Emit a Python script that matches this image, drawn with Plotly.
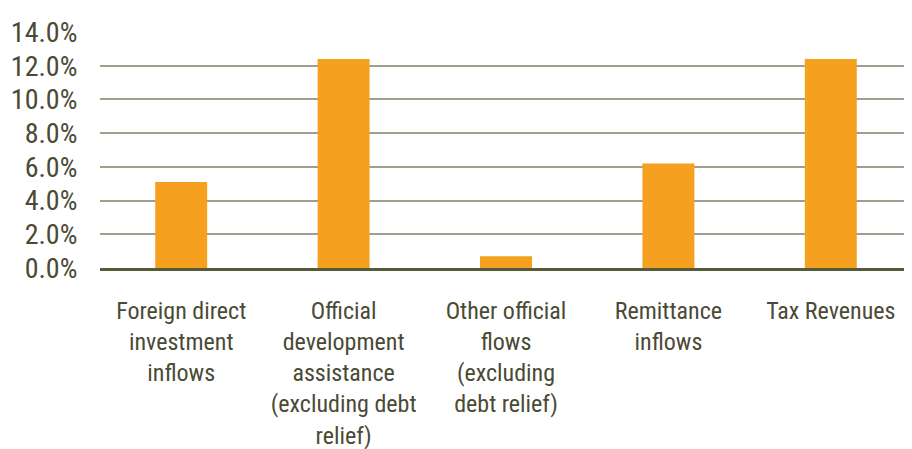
import plotly.graph_objects as go

categories = [
    "Foreign direct<br>investment<br>inflows",
    "Official<br>development<br>assistance<br>(excluding debt<br>relief)",
    "Other official<br>flows<br>(excluding<br>debt relief)",
    "Remittance<br>inflows",
    "Tax Revenues",
]
values = [5.1, 12.4, 0.7, 6.2, 12.4]
tick_vals = [0, 2, 4, 6, 8, 10, 12, 14]
tick_text = ["0.0%", "2.0%", "4.0%", "6.0%", "8.0%", "10.0%", "12.0%", "14.0%"]

font_family = "Liberation Sans Narrow, Roboto Condensed, Arial Narrow, sans-serif"
text_color = "#4a4a35"

fig = go.Figure(
    go.Bar(x=categories, y=values, marker=dict(color="#f5a01e", line=dict(width=0)))
)
fig.update_layout(
    width=904,
    height=441,
    margin=dict(l=92, r=0, t=24, b=181),
    plot_bgcolor="white",
    paper_bgcolor="white",
    bargap=0.68,
    showlegend=False,
    font=dict(family=font_family, size=24, color=text_color),
)
fig.update_yaxes(
    range=[0, 14],
    tickvals=tick_vals,
    ticktext=tick_text,
    showgrid=True,
    gridcolor="#a39e8c",
    gridwidth=2,
    zeroline=False,
    ticks="outside",
    ticklen=16,
    tickcolor="rgba(0,0,0,0)",
    tickfont=dict(size=28),
    automargin=False,
)
fig.update_xaxes(
    showline=True,
    linecolor="#555a3a",
    linewidth=3,
    ticks="outside",
    ticklen=19,
    tickcolor="rgba(0,0,0,0)",
    tickfont=dict(size=24),
    tickangle=0,
    automargin=False,
)
fig.write_html("out.html")
